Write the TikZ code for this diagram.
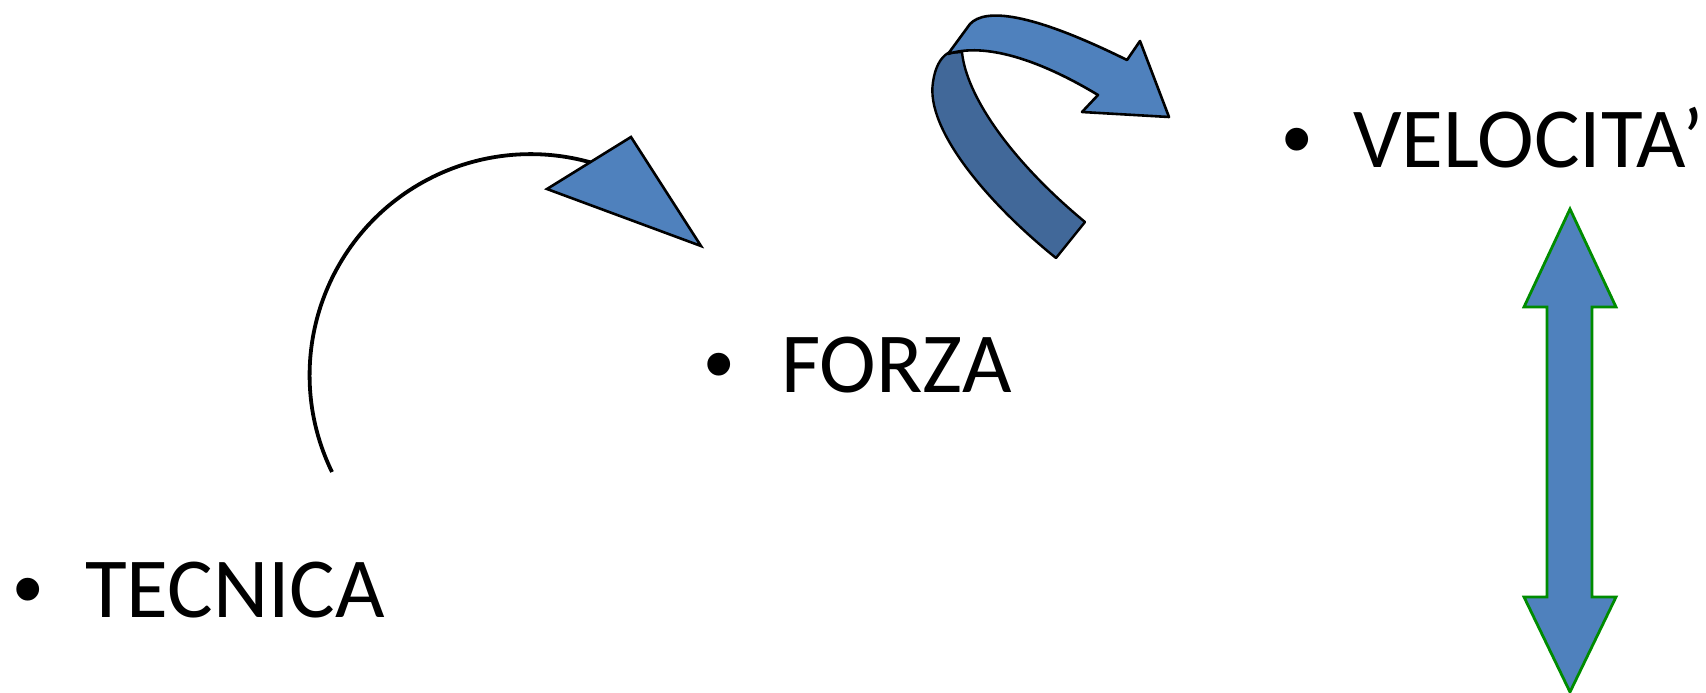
\documentclass[tikz,border=0pt]{standalone}
\usepackage{fontspec}
\setmainfont{Carlito}
\newfontfamily\bulletfont{Liberation Sans}
\definecolor{shapeblue}{HTML}{4F81BD}
\definecolor{shapedark}{HTML}{416899}
\definecolor{outlinegreen}{HTML}{008C00}
\begin{document}
\begin{tikzpicture}[x=1pt,y=-1pt,
  label text/.style={anchor=base west,inner sep=0pt,font=\fontsize{85.5}{100}\selectfont},
  bullet mark/.style={anchor=base,inner sep=0pt,font=\bulletfont\fontsize{84}{100}\selectfont},
  blue shape/.style={fill=shapeblue,draw=black,line width=2.6pt,line join=miter},
  dark shape/.style={fill=shapedark,draw=black,line width=2.4pt,line join=round},
  green arrow/.style={fill=shapeblue,draw=outlinegreen,line width=2.8pt,line join=miter}]
\useasboundingbox (0,0) rectangle (1706,693);

% bullet list items
\node[bullet mark] (b1) at (28,617) {•};
\node[label text]  (t1) at (85,617) {TECNICA};
\node[bullet mark] (b2) at (719,392) {•};
\node[label text]  (t2) at (781,392) {FORZA};
\node[bullet mark] (b3) at (1297,167) {•};
\node[label text]  (t3) at (1353,167) {VELOCITA’};

% open arc with a triangular head
\coordinate (arcstart) at (332,472);
\draw[line width=3.8pt] (arcstart) arc[start angle=206,end angle=74,radius=221pt];
\draw[blue shape] (547,189) -- (631,137) -- (701,246) -- cycle;

% ribbon arrow: shaded underside
\draw[dark shape] (962,52)
  .. controls (966,95) and (1010,160) .. (1085,222)
  -- (1056,258)
  .. controls (990,205) and (925,130) .. (933,82)
  .. controls (935,68) and (940,58) .. (948,53) -- cycle;
% ribbon arrow: upper band and head
\draw[blue shape,line join=round] (948,54)
  -- (970,24)
  .. controls (985,8) and (1030,12) .. (1127,60)
  -- (1140,41) -- (1169,117) -- (1082,112) -- (1098,95)
  .. controls (1040,60) and (985,42) .. (948,54) -- cycle;

% vertical double-headed arrow
\draw[green arrow] (1570,209) -- (1616,307) -- (1592,307) -- (1592,597)
  -- (1616,597) -- (1570,692) -- (1524,597) -- (1547,597) -- (1547,307)
  -- (1524,307) -- cycle;
\end{tikzpicture}
\end{document}
